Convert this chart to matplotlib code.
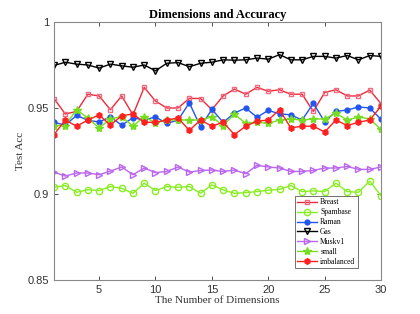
import matplotlib
matplotlib.use("Agg")
import matplotlib.pyplot as plt
import numpy as np

dims = list(range(1, 31))
breast = [0.9555, 0.9465, 0.948, 0.958, 0.957, 0.949, 0.957, 0.946, 0.962, 0.954,
          0.950, 0.950, 0.9556, 0.9555, 0.949, 0.957, 0.961, 0.958, 0.962, 0.9597,
          0.9606, 0.958, 0.958, 0.948, 0.959, 0.9606, 0.957, 0.957, 0.9604, 0.9525]
spambase = [0.9039, 0.9049, 0.901, 0.9025, 0.902, 0.9043, 0.9033, 0.9004, 0.9063, 0.902,
            0.9043, 0.9039, 0.9043, 0.9004, 0.9053, 0.9024, 0.9004, 0.9008, 0.9014, 0.9022,
            0.9027, 0.9049, 0.9014, 0.9018, 0.9014, 0.9063, 0.9014, 0.901, 0.9075, 0.899]
raman = [0.9417, 0.940, 0.9457, 0.9428, 0.9419, 0.9448, 0.940, 0.9443, 0.943, 0.9448,
         0.941, 0.943, 0.953, 0.939, 0.9492, 0.9417, 0.947, 0.950, 0.9446, 0.9486,
         0.9466, 0.946, 0.943, 0.9527, 0.942, 0.948, 0.9488, 0.9506, 0.950, 0.9434]
gas = [0.9747, 0.9766, 0.9755, 0.975, 0.9732, 0.9755, 0.9745, 0.9737, 0.975, 0.9716,
       0.976, 0.9764, 0.974, 0.976, 0.9766, 0.978, 0.9778, 0.978, 0.979, 0.9784,
       0.981, 0.978, 0.978, 0.980, 0.980, 0.979, 0.9805, 0.978, 0.9805, 0.980]
muskv1 = [0.9127, 0.9104, 0.9122, 0.9122, 0.9112, 0.9133, 0.9157, 0.9112, 0.9151, 0.9124,
          0.9131, 0.9157, 0.9127, 0.9137, 0.9139, 0.9131, 0.9139, 0.9118, 0.9167, 0.9157,
          0.9151, 0.9131, 0.9131, 0.9137, 0.9151, 0.9151, 0.916, 0.9143, 0.9143, 0.9157]
small = [0.9398, 0.9398, 0.949, 0.9442, 0.9384, 0.9436, 0.945, 0.9394, 0.945, 0.9413,
         0.943, 0.943, 0.943, 0.943, 0.9448, 0.9398, 0.9465, 0.941, 0.9417, 0.941,
         0.943, 0.9436, 0.943, 0.9436, 0.9436, 0.947, 0.943, 0.9448, 0.9436, 0.9375]
imbalanced = [0.9345, 0.943, 0.9394, 0.943, 0.946, 0.940, 0.9455, 0.9465, 0.9417, 0.9417,
              0.943, 0.9442, 0.937, 0.943, 0.9394, 0.9417, 0.9345, 0.9394, 0.9423, 0.943,
              0.949, 0.9384, 0.9394, 0.9394, 0.936, 0.943, 0.9398, 0.9417, 0.943, 0.951]

fig = plt.figure(figsize=(4.2, 3.14), dpi=100)
ax = fig.add_axes([0.1286, 0.1083, 0.7786, 0.8217])

lw = 1.0
ms = 4
ax.plot(dims, breast, color='#ee2a3a', lw=lw, marker='s', ms=3.5, mfc='none', mec='#f06a80', mew=1.0, label='Breast')
ax.plot(dims, spambase, color='#88ee22', lw=lw, marker='o', ms=4.5, mfc='none', mec='#88ee22', mew=1.0, label='Spambase')
ax.plot(dims, raman, color='#2255ee', lw=lw, marker='o', ms=3.5, mfc='#2255ee', mec='#2255ee', label='Raman')
ax.plot(dims, gas, color='black', lw=lw, marker='v', ms=4.5, mfc='none', mec='black', mew=1.0, label='Gas')
ax.plot(dims, muskv1, color='#bb66ee', lw=lw, marker='>', ms=5, mfc='none', mec='#bb66ee', mew=1.0, label='Muskv1')
ax.plot(dims, small, color='#77dd22', lw=lw, marker='*', ms=6, mfc='#77dd22', mec='#77dd22', label='small')
ax.plot(dims, imbalanced, color='#ff2020', lw=lw, marker='h', ms=4, mfc='#ff2020', mec='#ff2020', label='imbalanced')

ax.set_xlim(1, 30)
ax.set_ylim(0.85, 1.0)
ax.set_xticks([5, 10, 15, 20, 25, 30])
ax.set_yticks([0.85, 0.9, 0.95, 1.0])
ax.set_yticklabels(['0.85', '0.9', '0.95', '1'])
ax.tick_params(direction='in', top=True, right=True, labelsize=8, length=3, width=0.6, colors='#333333')
for lab in ax.get_xticklabels() + ax.get_yticklabels():
    lab.set_family('Liberation Sans')
for s in ax.spines.values():
    s.set_color('#888888')
    s.set_linewidth(0.8)

ax.set_title('Dimensions and Accuracy', family='Liberation Serif', fontweight='bold', fontsize=9, pad=3)
ax.set_xlabel('The Number of Dimensions', family='Liberation Serif', fontsize=8, labelpad=1, color='#333333')
ax.set_ylabel('Test Acc', family='Liberation Serif', fontsize=8, labelpad=2, color='#333333')

leg = ax.legend(loc='lower left', bbox_to_anchor=(0.737, 0.046), prop={'family': 'Liberation Serif', 'size': 5.5},
                frameon=True, fancybox=False, edgecolor='#333333', labelspacing=0.25, handlelength=2.6,
                borderpad=0.3, handletextpad=0.4, borderaxespad=0)
leg.get_frame().set_linewidth(0.6)

fig.savefig('out.png', dpi=100)
